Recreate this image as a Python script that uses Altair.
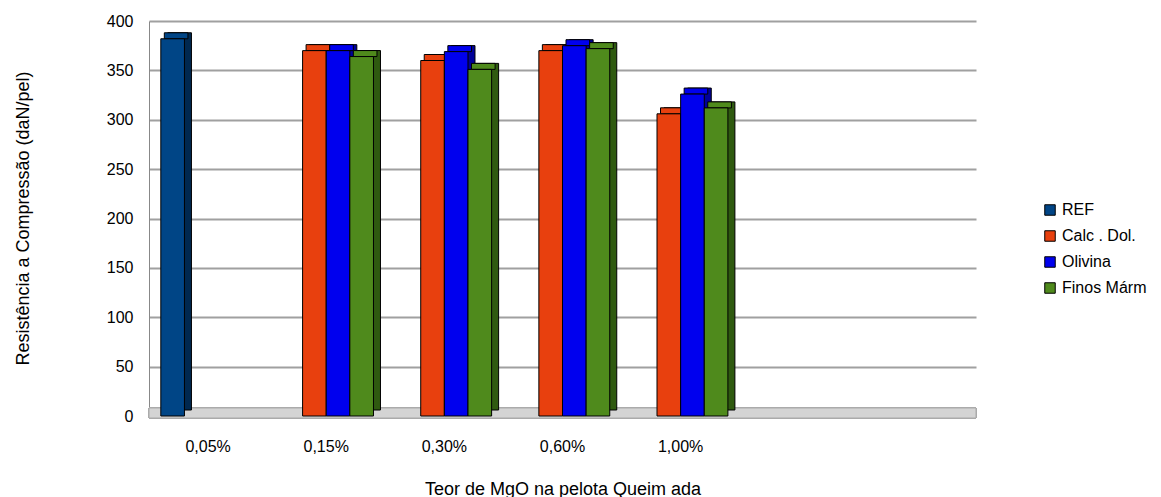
import altair as alt
import pandas as pd

categories = ["0,05%", "0,15%", "0,30%", "0,60%", "1,00%", " ", "  "]
series = ["REF", "Calc . Dol.", "Olivina", "Finos Márm"]
colors = ["#004586", "#e8400e", "#0000ee", "#4f8a1c"]
side_colors = ["#00284f", "#8a2608", "#00009a", "#2f5a10"]

ref_vals = [382, None, None, None, None]
calc_vals = [None, 370, 360, 370, 306]
oliv_vals = [None, 370, 369, 375, 326]
finos_vals = [None, 364, 351, 372, 312]

rows = []
for s, vals in zip(series, [ref_vals, calc_vals, oliv_vals, finos_vals]):
    for c, v in zip(categories, vals):
        if v is not None:
            rows.append({"cat": c, "serie": s, "valor": v})
df = pd.DataFrame(rows)

W, H = 827, 395
FONT = "Liberation Sans"
GROUP = W / (len(categories)) * 0.8  # band width of each category group
DX, DY = 7, 6

xenc = alt.X("cat:N", scale=alt.Scale(domain=categories, paddingInner=0.2, paddingOuter=0.1),
             axis=alt.Axis(title="Teor de MgO na pelota Queim ada", labelAngle=0, ticks=False,
                           domain=False, labelPadding=22, titlePadding=26, labelFontSize=16,
                           titleFontSize=18, titleFontWeight="normal", labelFont=FONT,
                           titleFont=FONT, labelColor="#000", titleColor="#000"))


def xoff(shift):
    return alt.XOffset("serie:N", scale=alt.Scale(domain=series, paddingInner=0, paddingOuter=0,
                                                  range=[shift, shift + GROUP]))


yenc = alt.Y("valor:Q", scale=alt.Scale(domain=[0, 400]),
             axis=alt.Axis(title="Resistência a Compressão (daN/pel)",
                           values=[0, 50, 100, 150, 200, 250, 300, 350, 400], ticks=False,
                           domain=True, domainColor="#888", labelPadding=16, labelFontSize=16,
                           titleFontSize=18, titleFontWeight="normal", labelFont=FONT,
                           titleFont=FONT, labelColor="#000", titleColor="#000",
                           gridColor="#a0a0a0", gridWidth=2, titleX=-117, titleY=197,
                           labelOverlap=False))

floor = alt.Chart(df).mark_rect(color="#d4d4d4", stroke="#aaa", strokeWidth=1).encode(
    x=alt.value(0), x2=alt.value(W), y=alt.value(H - 8), y2=alt.value(H + 2))

side = alt.Chart(df).mark_bar(stroke="black", strokeWidth=1, yOffset=-DY,
                              y2Offset=-DY).encode(
    x=xenc, xOffset=xoff(DX), y=yenc,
    color=alt.Color("serie:N", scale=alt.Scale(domain=series, range=side_colors), legend=None))

top = alt.Chart(df).mark_bar(stroke="black", strokeWidth=1, yOffset=-DY).encode(
    x=xenc, xOffset=xoff(DX / 2), y=yenc, y2=alt.Y2("valor:Q"),
    color=alt.Color("serie:N", scale=alt.Scale(domain=series, range=colors), legend=None))

front = alt.Chart(df).mark_bar(stroke="black", strokeWidth=1).encode(
    x=xenc, xOffset=xoff(0), y=yenc,
    color=alt.Color("serie:N", scale=alt.Scale(domain=series, range=colors),
                    legend=alt.Legend(title=None, orient="none", legendX=893, legendY=181,
                                      symbolType="square", symbolSize=110,
                                      symbolStrokeColor="black", symbolStrokeWidth=1,
                                      labelFontSize=16, labelFont=FONT, labelColor="#000",
                                      rowPadding=10, labelOffset=4)))

chart = alt.layer(floor, side, top, front).resolve_scale(
    color="independent", xOffset="independent"
).properties(
    width=W, height=H, padding={"left": 5, "top": 5, "right": 0, "bottom": 0}
).configure_view(stroke=None)

chart.save("out.html", embed_options={"renderer": "svg", "actions": False})
